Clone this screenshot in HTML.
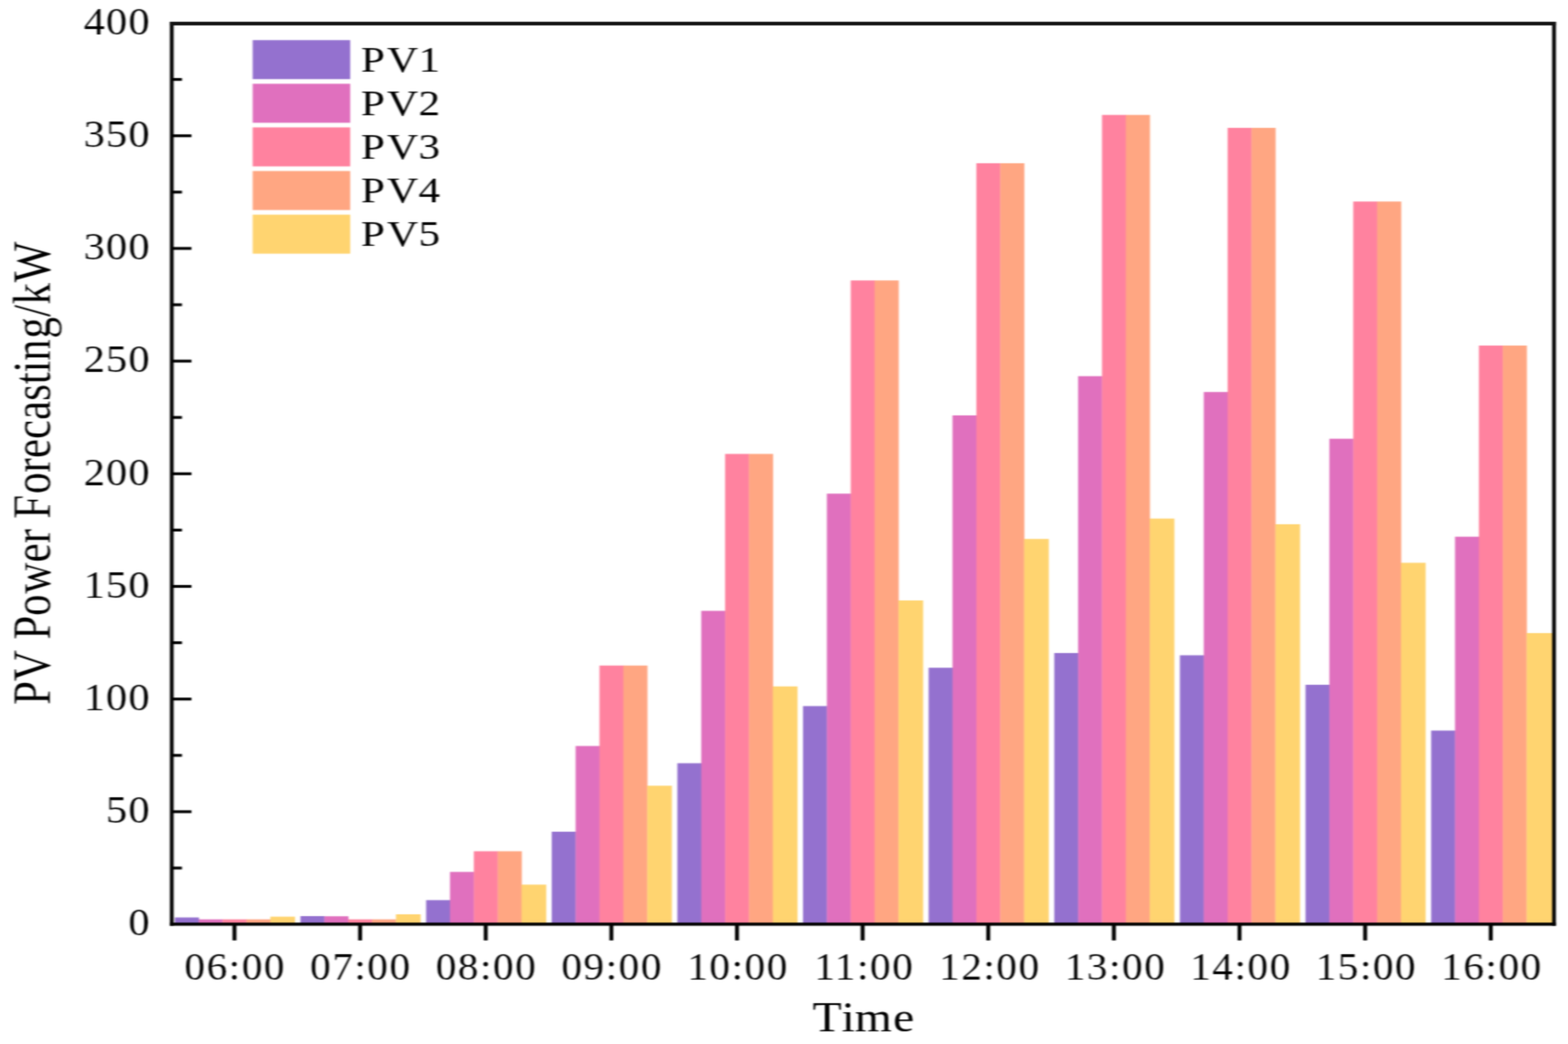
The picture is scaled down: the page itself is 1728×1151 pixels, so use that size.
<!DOCTYPE html>
<html lang="en">
<head>
<meta charset="utf-8">
<title>PV Power Forecasting</title>
<style>
html,body{margin:0;padding:0;background:#fff;}
body{width:1728px;height:1151px;overflow:hidden;}
svg{display:block;}
text{font-family:"Liberation Serif","DejaVu Serif",serif;fill:#000;}
</style>
</head>
<body>
<svg width="1728" height="1151" viewBox="0 0 1728 1151">
<defs><filter id="soft" x="0" y="0" width="1728" height="1151" filterUnits="userSpaceOnUse" color-interpolation-filters="sRGB"><feConvolveMatrix order="5 3" kernelMatrix="1 4 6 4 1 4 16 24 16 4 1 4 6 4 1" divisor="96" edgeMode="duplicate" preserveAlpha="true"/></filter></defs>
<rect x="0" y="0" width="1728" height="1151" fill="#fff"/>
<g id="chart" filter="url(#soft)">
<rect x="0" y="0" width="1728" height="1151" fill="#fff"/>
<g id="bars" shape-rendering="auto">
<rect x="192.7" y="1011.5" width="26.6" height="7.4" fill="#9471CF"/>
<rect x="219" y="1013.6" width="26.6" height="5.3" fill="#E070BE"/>
<rect x="245.3" y="1013.6" width="26.6" height="5.3" fill="#FF829F"/>
<rect x="271.6" y="1013.6" width="26.6" height="5.3" fill="#FFA682"/>
<rect x="297.9" y="1010.6" width="27.2" height="8.3" fill="#FFD470"/>
<rect x="331.15" y="1010" width="26.6" height="8.9" fill="#9471CF"/>
<rect x="357.45" y="1010.2" width="26.6" height="8.7" fill="#E070BE"/>
<rect x="383.75" y="1013.6" width="26.6" height="5.3" fill="#FF829F"/>
<rect x="410.05" y="1013.6" width="26.6" height="5.3" fill="#FFA682"/>
<rect x="436.35" y="1008" width="27.2" height="10.9" fill="#FFD470"/>
<rect x="469.6" y="992.4" width="26.6" height="26.5" fill="#9471CF"/>
<rect x="495.9" y="961.3" width="26.6" height="57.6" fill="#E070BE"/>
<rect x="522.2" y="938.5" width="26.6" height="80.4" fill="#FF829F"/>
<rect x="548.5" y="938.5" width="26.6" height="80.4" fill="#FFA682"/>
<rect x="574.8" y="975.3" width="27.2" height="43.6" fill="#FFD470"/>
<rect x="608.05" y="916.95" width="26.6" height="101.95" fill="#9471CF"/>
<rect x="634.35" y="822.45" width="26.6" height="196.45" fill="#E070BE"/>
<rect x="660.65" y="733.75" width="26.6" height="285.15" fill="#FF829F"/>
<rect x="686.95" y="733.75" width="26.6" height="285.15" fill="#FFA682"/>
<rect x="713.25" y="866.25" width="27.2" height="152.65" fill="#FFD470"/>
<rect x="746.5" y="841.45" width="26.6" height="177.45" fill="#9471CF"/>
<rect x="772.8" y="673.45" width="26.6" height="345.45" fill="#E070BE"/>
<rect x="799.1" y="500.45" width="26.6" height="518.45" fill="#FF829F"/>
<rect x="825.4" y="500.45" width="26.6" height="518.45" fill="#FFA682"/>
<rect x="851.7" y="756.75" width="27.2" height="262.15" fill="#FFD470"/>
<rect x="884.95" y="778.45" width="26.6" height="240.45" fill="#9471CF"/>
<rect x="911.25" y="544.25" width="26.6" height="474.65" fill="#E070BE"/>
<rect x="937.55" y="309.2" width="26.6" height="709.7" fill="#FF829F"/>
<rect x="963.85" y="309.2" width="26.6" height="709.7" fill="#FFA682"/>
<rect x="990.15" y="661.95" width="27.2" height="356.95" fill="#FFD470"/>
<rect x="1023.4" y="736.2" width="26.6" height="282.7" fill="#9471CF"/>
<rect x="1049.7" y="457.95" width="26.6" height="560.95" fill="#E070BE"/>
<rect x="1076" y="179.95" width="26.6" height="838.95" fill="#FF829F"/>
<rect x="1102.3" y="179.95" width="26.6" height="838.95" fill="#FFA682"/>
<rect x="1128.6" y="594.2" width="27.2" height="424.7" fill="#FFD470"/>
<rect x="1161.85" y="719.95" width="26.6" height="298.95" fill="#9471CF"/>
<rect x="1188.15" y="414.7" width="26.6" height="604.2" fill="#E070BE"/>
<rect x="1214.45" y="126.7" width="26.6" height="892.2" fill="#FF829F"/>
<rect x="1240.75" y="126.7" width="26.6" height="892.2" fill="#FFA682"/>
<rect x="1267.05" y="571.7" width="27.2" height="447.2" fill="#FFD470"/>
<rect x="1300.3" y="722.45" width="26.6" height="296.45" fill="#9471CF"/>
<rect x="1326.6" y="432.2" width="26.6" height="586.7" fill="#E070BE"/>
<rect x="1352.9" y="140.95" width="26.6" height="877.95" fill="#FF829F"/>
<rect x="1379.2" y="140.95" width="26.6" height="877.95" fill="#FFA682"/>
<rect x="1405.5" y="577.95" width="27.2" height="440.95" fill="#FFD470"/>
<rect x="1438.75" y="754.95" width="26.6" height="263.95" fill="#9471CF"/>
<rect x="1465.05" y="483.7" width="26.6" height="535.2" fill="#E070BE"/>
<rect x="1491.35" y="222.2" width="26.6" height="796.7" fill="#FF829F"/>
<rect x="1517.65" y="222.2" width="26.6" height="796.7" fill="#FFA682"/>
<rect x="1543.95" y="620.45" width="27.2" height="398.45" fill="#FFD470"/>
<rect x="1577.2" y="805.45" width="26.6" height="213.45" fill="#9471CF"/>
<rect x="1603.5" y="591.7" width="26.6" height="427.2" fill="#E070BE"/>
<rect x="1629.8" y="380.95" width="26.6" height="637.95" fill="#FF829F"/>
<rect x="1656.1" y="380.95" width="26.6" height="637.95" fill="#FFA682"/>
<rect x="1682.4" y="697.95" width="29.15" height="320.95" fill="#FFD470"/>
</g>
<g id="axes" fill="#000">
<rect x="187.25" y="24" width="4.1" height="996.6"/>
<rect x="1710.55" y="24" width="4.1" height="996.6"/>
<rect x="187.25" y="24" width="1527.4" height="4" fill="#111"/>
<rect x="187.25" y="1017.2" width="1527.4" height="3.4"/>
<rect x="188.25" y="955.45" width="12.25" height="3.1"/>
<rect x="188.25" y="893.35" width="22.75" height="3.1"/>
<rect x="188.25" y="831.25" width="12.25" height="3.1"/>
<rect x="188.25" y="769.15" width="22.75" height="3.1"/>
<rect x="188.25" y="707.05" width="12.25" height="3.1"/>
<rect x="188.25" y="644.95" width="22.75" height="3.1"/>
<rect x="188.25" y="582.85" width="12.25" height="3.1"/>
<rect x="188.25" y="520.75" width="22.75" height="3.1"/>
<rect x="188.25" y="458.65" width="12.25" height="3.1"/>
<rect x="188.25" y="396.55" width="22.75" height="3.1"/>
<rect x="188.25" y="334.45" width="12.25" height="3.1"/>
<rect x="188.25" y="272.35" width="22.75" height="3.1"/>
<rect x="188.25" y="210.25" width="12.25" height="3.1"/>
<rect x="188.25" y="148.15" width="22.75" height="3.1"/>
<rect x="188.25" y="86.05" width="12.25" height="3.1"/>
<rect x="256.25" y="1018.2" width="4.3" height="18.6"/>
<rect x="394.7" y="1018.2" width="4.3" height="18.6"/>
<rect x="533.15" y="1018.2" width="4.3" height="18.6"/>
<rect x="671.6" y="1018.2" width="4.3" height="18.6"/>
<rect x="810.05" y="1018.2" width="4.3" height="18.6"/>
<rect x="948.5" y="1018.2" width="4.3" height="18.6"/>
<rect x="1086.95" y="1018.2" width="4.3" height="18.6"/>
<rect x="1225.4" y="1018.2" width="4.3" height="18.6"/>
<rect x="1363.85" y="1018.2" width="4.3" height="18.6"/>
<rect x="1502.3" y="1018.2" width="4.3" height="18.6"/>
<rect x="1640.75" y="1018.2" width="4.3" height="18.6"/>
</g>
<g id="ylabels" font-size="41.4" stroke="#fff" stroke-width="0.1">
<text transform="translate(166.2 1031.3) scale(1.13 1)" text-anchor="end" letter-spacing="1.15">0</text>
<text transform="translate(166.2 907.1) scale(1.13 1)" text-anchor="end" letter-spacing="1.15">50</text>
<text transform="translate(166.2 782.9) scale(1.13 1)" text-anchor="end" letter-spacing="1.15">100</text>
<text transform="translate(166.2 658.7) scale(1.13 1)" text-anchor="end" letter-spacing="1.15">150</text>
<text transform="translate(166.2 534.5) scale(1.13 1)" text-anchor="end" letter-spacing="1.15">200</text>
<text transform="translate(166.2 410.3) scale(1.13 1)" text-anchor="end" letter-spacing="1.15">250</text>
<text transform="translate(166.2 286.1) scale(1.13 1)" text-anchor="end" letter-spacing="1.15">300</text>
<text transform="translate(166.2 161.9) scale(1.13 1)" text-anchor="end" letter-spacing="1.15">350</text>
<text transform="translate(166.2 37.7) scale(1.13 1)" text-anchor="end" letter-spacing="1.15">400</text>
</g>
<g id="xlabels" font-size="41.4" stroke="#fff" stroke-width="0.1">
<text transform="translate(259.25 1080) scale(1.096 1)" text-anchor="middle" letter-spacing="1.551">06:00</text>
<text transform="translate(397.7 1080) scale(1.096 1)" text-anchor="middle" letter-spacing="1.551">07:00</text>
<text transform="translate(536.15 1080) scale(1.096 1)" text-anchor="middle" letter-spacing="1.551">08:00</text>
<text transform="translate(674.6 1080) scale(1.096 1)" text-anchor="middle" letter-spacing="1.551">09:00</text>
<text transform="translate(813.35 1080) scale(1.096 1)" text-anchor="middle" letter-spacing="1.551">10:00</text>
<text transform="translate(952.5 1080) scale(1.096 1)" text-anchor="middle" letter-spacing="1.551">11:00</text>
<text transform="translate(1090.95 1080) scale(1.096 1)" text-anchor="middle" letter-spacing="1.551">12:00</text>
<text transform="translate(1229.4 1080) scale(1.096 1)" text-anchor="middle" letter-spacing="1.551">13:00</text>
<text transform="translate(1367.65 1080) scale(1.096 1)" text-anchor="middle" letter-spacing="1.551">14:00</text>
<text transform="translate(1505.8 1080) scale(1.096 1)" text-anchor="middle" letter-spacing="1.551">15:00</text>
<text transform="translate(1644.25 1080) scale(1.096 1)" text-anchor="middle" letter-spacing="1.551">16:00</text>
</g>
<g id="titles">
<text transform="translate(895.5 1137.35) scale(1.13 1)" dx="0 1.593 -0.177 1.15" font-size="46.5">Time</text>
<text transform="translate(54.7 776.6) rotate(-90) scale(1.005 1.27)" dx="-0.697 0 0 0.398 -0.1 0.697 0.199 0 0 -0.597 0.995 0 0 0 0 0 0 -0.398 -0.199 0.597 0.398 0.299 0.697" font-size="47.2" stroke="#fff" stroke-width="0.12">PV Power Forecasting/kW</text>
</g>
<g id="legend" font-size="40.6">
<rect x="278.45" y="44.25" width="107.5" height="43" fill="#9471CF"/>
<text transform="translate(398 78.7) scale(1.17 1)" dx="-0.256 2.137 0.256">PV1</text>
<rect x="278.45" y="92.35" width="107.5" height="43" fill="#E070BE"/>
<text transform="translate(398 126.8) scale(1.17 1)" dx="-0.256 2.137 0.256">PV2</text>
<rect x="278.45" y="140.45" width="107.5" height="43" fill="#FF829F"/>
<text transform="translate(398 174.9) scale(1.17 1)" dx="-0.256 2.137 0.256">PV3</text>
<rect x="278.45" y="188.55" width="107.5" height="43" fill="#FFA682"/>
<text transform="translate(398 223) scale(1.17 1)" dx="-0.256 2.137 0.256">PV4</text>
<rect x="278.45" y="236.65" width="107.5" height="43" fill="#FFD470"/>
<text transform="translate(398 271.1) scale(1.17 1)" dx="-0.256 2.137 0.256">PV5</text>
</g>
</g>
</svg>
</body>
</html>
